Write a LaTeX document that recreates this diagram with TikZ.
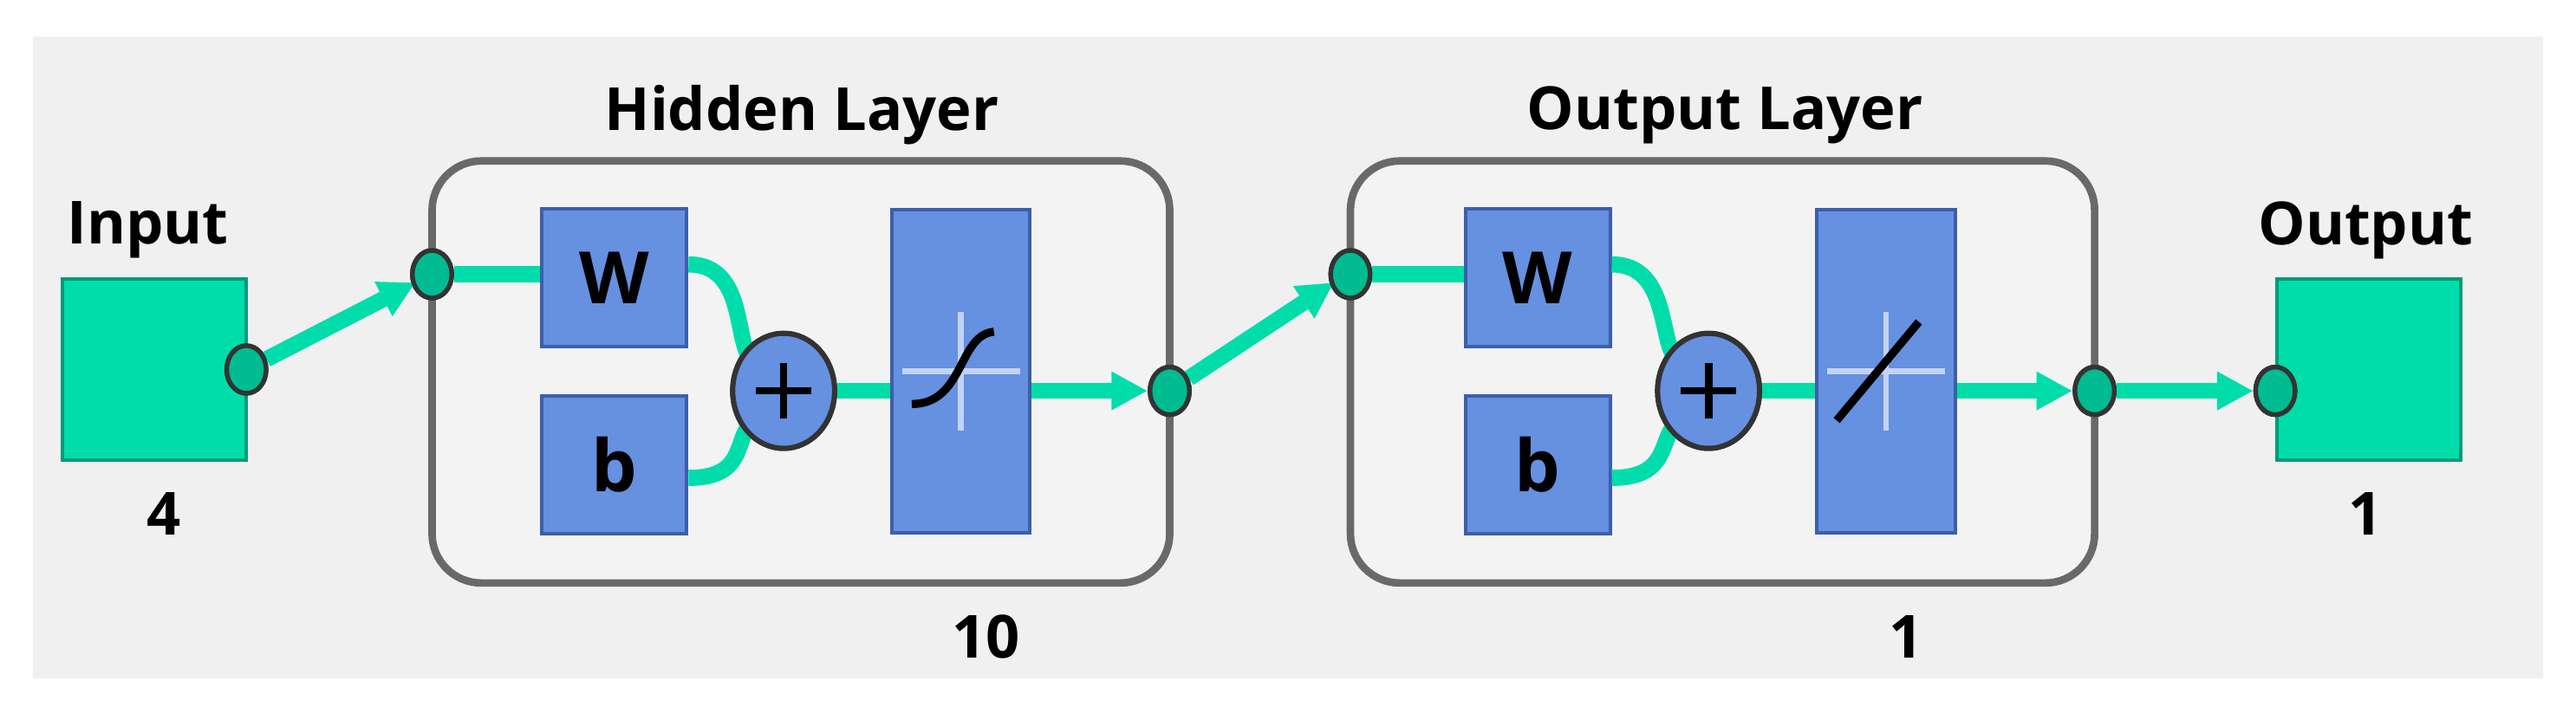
\documentclass[tikz,border=0pt]{standalone}
\usepackage{fontspec}
\setmainfont{Open Sans}
\usetikzlibrary{shapes.geometric,arrows.meta}
\definecolor{teal}{RGB}{0,221,170}
\definecolor{blu}{RGB}{102,144,224}
\definecolor{bludk}{RGB}{60,95,170}
\definecolor{bg}{RGB}{240,240,240}
\definecolor{boxbg}{RGB}{243,243,243}
\definecolor{frame}{RGB}{105,105,105}
\begin{document}
\begin{tikzpicture}[x=0.01cm,y=-0.01cm,
  lbl/.style={font=\fontsize{10.3}{12}\selectfont\bfseries},
  layer/.style={draw=frame,line width=1.3pt,fill=boxbg,rounded corners=0.3cm},
  blk/.style={draw=bludk,line width=0.6pt,fill=blu,minimum width=0.88cm,minimum height=0.84cm,inner sep=0pt,font=\fontsize{12.5}{15}\selectfont\bfseries},
  tf/.style={draw=bludk,line width=0.6pt,fill=blu,minimum width=0.84cm,minimum height=1.97cm,inner sep=0pt},
  gsq/.style={draw=teal!70!black,line width=0.6pt,fill=teal,minimum width=1.12cm,minimum height=1.1cm,inner sep=0pt},
  dot/.style={ellipse,draw=black!80,line width=0.8pt,fill=teal!85!black,minimum width=0.24cm,minimum height=0.29cm,inner sep=0pt},
  sum/.style={ellipse,draw=black!80,line width=0.9pt,fill=blu,minimum width=0.62cm,minimum height=0.7cm,inner sep=0pt},
  wire/.style={draw=teal,line width=2.8pt},
  arr/.style={wire,-{Triangle[length=0.22cm,width=0.22cm]}}]
\useasboundingbox (0,0) rectangle (1568,430);
\fill[bg] (20,22) rectangle (1548,413);
% layers
\draw[layer] (263,98) rectangle (712,355);
\draw[layer] (822,98) rectangle (1275,355);
\node[lbl] (hl) at (488,70) {Hidden Layer};
\node[lbl] (ol) at (1050,70) {Output Layer};
\node[lbl] (n10) at (600,388) {10};
\node[lbl] (n1) at (1160,388) {1};
% input/output
\node[gsq] (in) at (94,225) {};
\node[gsq] (out) at (1442,225) {};
\node[lbl] (inl) at (90,140) {Input};
\node[lbl] (in4) at (100,313) {4};
\node[lbl] (outl) at (1440,140) {Output};
\node[lbl] (out1) at (1440,313) {1};
% hidden
\node[blk] (w1) at (374,169) {W};
\node[blk] (b1) at (374,283) {b};
\node[sum] (s1) at (477,238) {};
\node[tf] (t1) at (585,226) {};
% output layer
\node[blk] (w2) at (936,169) {W};
\node[blk] (b2) at (936,283) {b};
\node[sum] (s2) at (1040,238) {};
\node[tf] (t2) at (1148,226) {};
% wires
\foreach \w/\b/\s/\t in {w1/b1/s1/t1,w2/b2/s2/t2}{
  \path[wire] ([yshift=0.08cm]\w.east) .. controls +(0.35cm,0) and +(-0.1cm,0.1cm) .. ([shift={(-0.2cm,0.2cm)}]\s.center);
  \path[wire] ([yshift=-0.08cm]\b.east) .. controls +(0.35cm,0) and +(-0.1cm,-0.1cm) .. ([shift={(-0.2cm,-0.2cm)}]\s.center);
  \path[wire] (\s.east) -- (\t.west|-\s.east);
}
% dots
\node[dot] (d0) at (150,225) {};
\node[dot] (d1) at (263,167) {};
\node[dot] (d2) at (712,238) {};
\node[dot] (d3) at (822,167) {};
\node[dot] (d4) at (1275,238) {};
\node[dot] (d5) at (1385,238) {};
\path[wire] (d1) -- (w1.west|-d1);
\path[wire] (d3) -- (w2.west|-d3);
\path[arr] (d0) -- ([shift={(-0.1cm,-0.05cm)}]d1.center);
\path[arr] (t1.east|-d2) -- (d2.west);
\path[arr] (d2) -- ([shift={(-0.1cm,-0.05cm)}]d3.center);
\path[arr] (t2.east|-d4) -- (d4.west);
\path[arr] (d4) -- (d5.west);
\node[dot] at (d0) {};\node[dot] at (d1) {};\node[dot] at (d2) {};
\node[dot] at (d3) {};\node[dot] at (d4) {};\node[dot] at (d5) {};
\node[sum] at (s1) {};\node[sum] at (s2) {};
% plus signs
\draw[line width=1.3pt] ([xshift=-0.17cm]s1.center) -- ([xshift=0.17cm]s1.center) ([yshift=-0.17cm]s1.center) -- ([yshift=0.17cm]s1.center);
\draw[line width=1.3pt] ([xshift=-0.17cm]s2.center) -- ([xshift=0.17cm]s2.center) ([yshift=-0.17cm]s2.center) -- ([yshift=0.17cm]s2.center);
% transfer functions
\draw[white!60!blu,line width=1pt] ([xshift=-0.36cm]t1.center) -- ([xshift=0.36cm]t1.center) ([yshift=-0.36cm]t1.center) -- ([yshift=0.36cm]t1.center);
\draw[line width=1.4pt] ([shift={(-0.3cm,-0.2cm)}]t1.center) .. controls ([shift={(0.02cm,-0.2cm)}]t1.center) and ([shift={(-0.02cm,0.22cm)}]t1.center) .. ([shift={(0.2cm,0.24cm)}]t1.center);
\draw[white!60!blu,line width=1pt] ([xshift=-0.36cm]t2.center) -- ([xshift=0.36cm]t2.center) ([yshift=-0.36cm]t2.center) -- ([yshift=0.36cm]t2.center);
\draw[line width=1.4pt] ([shift={(-0.3cm,-0.3cm)}]t2.center) -- ([shift={(0.2cm,0.3cm)}]t2.center);
\end{tikzpicture}
\end{document}
